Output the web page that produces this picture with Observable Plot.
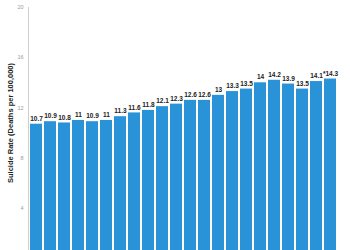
<!DOCTYPE html>
<html>
<head>
<meta charset="utf-8">
<script src="https://cdn.jsdelivr.net/npm/d3@7"></script>
<script src="https://cdn.jsdelivr.net/npm/@observablehq/plot@0.6"></script>
<style>
  html, body { margin: 0; padding: 0; background: #fff; overflow: hidden; }
  #chart svg { display: block; }
</style>
</head>
<body>
<div id="chart"></div>
<script>
const years = ["2000","2001","2002","2003","2004","2005","2006","2007","2008","2009","2010",
               "2011","2012","2013","2014","2015","2016","2017","2018","2019","2020","2021"];
const rates = [10.7, 10.9, 10.8, 11, 10.9, 11, 11.3, 11.6, 11.8, 12.1, 12.3,
               12.6, 12.6, 13, 13.3, 13.5, 14, 14.2, 13.9, 13.5, 14.1, 14.3];
const barLabels = ["10.7","10.9","10.8","11","10.9","11","11.3","11.6","11.8","12.1","12.3",
                   "12.6","12.6","13","13.3","13.5","14","14.2","13.9","13.5","14.1","*14.3"];
const yTicks = [4, 8, 12, 16, 20];
const yTitle = "Suicide Rate (Deaths per 100,000)";

const data = years.map((y, i) => ({year: y, rate: rates[i], label: barLabels[i]}));

const chart = Plot.plot({
  width: 350,
  height: 270,
  marginTop: 7,
  marginBottom: 12,
  marginLeft: 28,
  marginRight: 13,
  style: {fontFamily: "'Liberation Sans', Arial, sans-serif", background: "#fff"},
  x: {domain: years, paddingInner: 0.15, paddingOuter: 0.07, axis: null},
  y: {domain: [0, 20], axis: null},
  marks: [
    Plot.frame({anchor: "left", stroke: "#cfcfcf", strokeWidth: 1}),
    Plot.axisY({ticks: yTicks, tickSize: 0, tickPadding: 5, fontSize: 5.5, fill: "#9a9a9a", label: null}),
    Plot.text([yTitle], {frameAnchor: "left", textAnchor: "middle", rotate: -90, dx: -18, dy: -10, fontSize: 7.5, fontWeight: "bold", fill: "#222"}),
    Plot.barY(data, {x: "year", y: "rate", fill: "#2a93d8"}),
    Plot.text(data, {x: "year", y: "rate", text: "label", dy: -5.5, fontSize: 6.5, fontWeight: "bold", fill: "#222"})
  ]
});
document.getElementById("chart").append(chart);
</script>
</body>
</html>
